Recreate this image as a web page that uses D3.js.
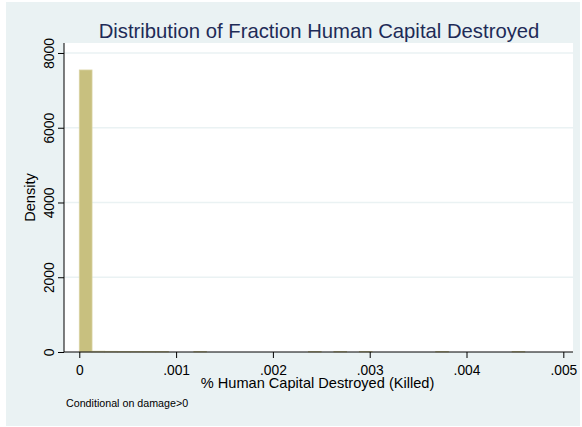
<!DOCTYPE html>
<html>
<head>
<meta charset="utf-8">
<script src="https://cdn.jsdelivr.net/npm/d3@7"></script>
<style>
  html, body { margin: 0; padding: 0; background: #ffffff; }
  svg { display: block; font-family: "Liberation Sans", Arial, sans-serif; }
</style>
</head>
<body>
<svg id="chart" width="582" height="427"></svg>
<script>
// ---- data ----
const title = "Distribution of Fraction Human Capital Destroyed";
const xTitle = "% Human Capital Destroyed (Killed)";
const yTitle = "Density";
const note = "Conditional on damage>0";
const binWidth = 0.0001315;
const binStarts = [0, 0.0001315, 0.000263, 0.0003945, 0.000526, 0.0006575, 0.000789,
                   0.0011835, 0.002367, 0.00263, 0.002893, 0.003682, 0.004471];
const densities = [7545, 22, 18, 16, 16, 16, 16, 14, 16, 16, 16, 16, 16];
const xTicks = [0, 0.001, 0.002, 0.003, 0.004, 0.005];
const xTickLabels = ["0", ".001", ".002", ".003", ".004", ".005"];
const yTicks = [0, 2000, 4000, 6000, 8000];
const yTickLabels = ["0", "2000", "4000", "6000", "8000"];

// ---- layout ----
const svg = d3.select("#chart");
const plot = { left: 64, right: 573, top: 43, bottom: 352 };
const bg = "#eaf2f3";

svg.append("rect").attr("x", 6).attr("y", 2).attr("width", 574).attr("height", 424).attr("fill", bg);
svg.append("rect").attr("x", plot.left).attr("y", plot.top)
  .attr("width", plot.right - plot.left).attr("height", plot.bottom - plot.top).attr("fill", "#ffffff");

const x = d3.scaleLinear().domain([-0.000158, 0.0051]).range([plot.left, plot.right]);
const y = d3.scaleLinear().domain([0, 8267]).range([plot.bottom, plot.top]);

// gridlines
svg.append("g").selectAll("line").data(yTicks.filter(d => d > 0)).join("line")
  .attr("x1", plot.left).attr("x2", plot.right)
  .attr("y1", d => y(d)).attr("y2", d => y(d))
  .attr("stroke", bg).attr("stroke-width", 1.5);

// bars
const bars = binStarts.map((s, i) => ({ x0: s, x1: s + binWidth, d: densities[i] }));
svg.append("g").selectAll("rect").data(bars).join("rect")
  .attr("x", d => x(d.x0))
  .attr("width", d => x(d.x1) - x(d.x0))
  .attr("y", d => y(d.d))
  .attr("height", d => y(0) - y(d.d))
  .attr("fill", "#c8c07f")
  .attr("stroke", "#d8d2a2")
  .attr("stroke-width", 0.8);

// y axis
const yAxis = d3.axisLeft(y).tickValues(yTicks).tickFormat((d, i) => yTickLabels[i]).tickSize(6).tickSizeOuter(0);
const gy = svg.append("g").attr("transform", `translate(${plot.left},0)`).call(yAxis);
gy.select(".domain").attr("stroke", "#000").attr("d", `M0,${plot.top}V${plot.bottom}`);
gy.selectAll(".tick line").attr("stroke", "#000");
gy.selectAll(".tick text")
  .attr("x", null).attr("dy", null)
  .attr("text-anchor", "middle")
  .attr("transform", "translate(-10.5,0) rotate(-90)")
  .attr("font-size", "13.8px").attr("fill", "#000")
  .attr("font-family", "Liberation Sans, Arial, sans-serif");

// x axis
const xAxis = d3.axisBottom(x).tickValues(xTicks).tickFormat((d, i) => xTickLabels[i]).tickSize(6).tickSizeOuter(0);
const gx = svg.append("g").attr("transform", `translate(0,${plot.bottom})`).call(xAxis);
gx.select(".domain").attr("stroke", "#000").attr("d", `M${plot.left},0H${plot.right}`);
gx.selectAll(".tick line").attr("stroke", "#000");
gx.selectAll(".tick text")
  .attr("y", 23).attr("dy", null)
  .attr("font-size", "13.8px").attr("fill", "#000")
  .attr("font-family", "Liberation Sans, Arial, sans-serif");

// titles
svg.append("text").attr("x", 319).attr("y", 37.7).attr("text-anchor", "middle")
  .attr("font-size", "20.3px").attr("fill", "#1e2b57").text(title);
svg.append("text").attr("x", 317.5).attr("y", 388.3).attr("text-anchor", "middle")
  .attr("font-size", "14.6px").attr("fill", "#000").text(xTitle);
svg.append("text").attr("transform", `translate(35,197.5) rotate(-90)`).attr("text-anchor", "middle")
  .attr("font-size", "14.6px").attr("fill", "#000").text(yTitle);
svg.append("text").attr("x", 66).attr("y", 406.5)
  .attr("font-size", "10.7px").attr("fill", "#000").text(note);
</script>
</body>
</html>
